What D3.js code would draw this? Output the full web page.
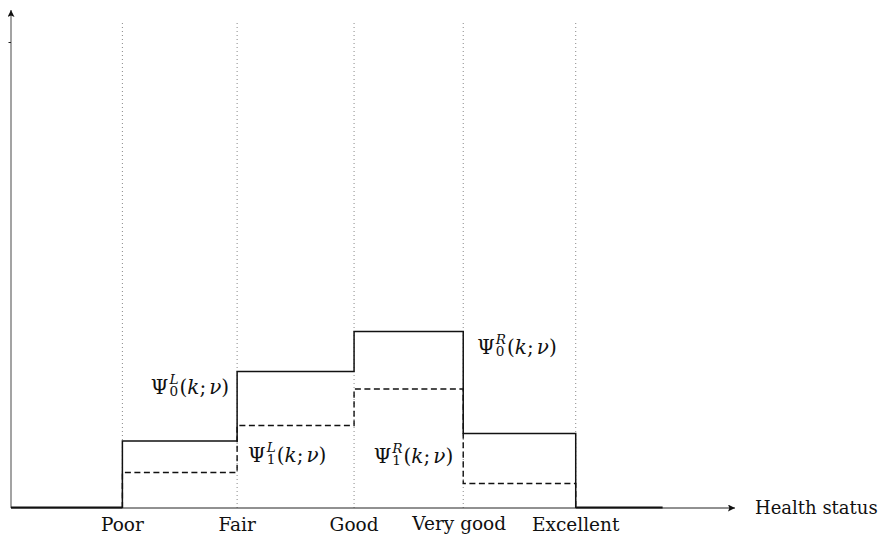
<!DOCTYPE html>
<html>
<head>
<meta charset="utf-8">
<script src="https://cdn.jsdelivr.net/npm/d3@7"></script>
<style>
  body { margin: 0; background: #fff; }
</style>
</head>
<body>
<div id="chart"></div>
<script>
// categories and the cut points on the latent scale
const categories = ["Poor", "Fair", "Good", "Very good", "Excellent"];
const cuts = [1.0, 2.03, 3.08, 4.06, 5.07];
// heights of the two step functions between consecutive cuts
const psi0 = [0.134, 0.273, 0.353, 0.149];
const psi1 = [0.071, 0.165, 0.238, 0.049];
const baseEnd = 5.85;
const axisMax = 6.5;

const width = 884, height = 535;
const origin = { x: 11, y: 508 };
const serif = '"DejaVu Serif", "Liberation Serif", serif';

const svg = d3.select('#chart').append('svg')
  .attr('width', width)
  .attr('height', height)
  .attr('font-family', serif);

const x = d3.scaleLinear([0, axisMax], [origin.x, 735]);
const y = d3.scaleLinear([0, 1], [origin.y, 8]);

// arrow marker
const defs = svg.append('defs');
defs.append('marker')
  .attr('id', 'arrow')
  .attr('viewBox', '0 0 10 10')
  .attr('refX', 10).attr('refY', 5)
  .attr('markerWidth', 9).attr('markerHeight', 7)
  .attr('markerUnits', 'userSpaceOnUse')
  .attr('orient', 'auto')
  .append('path')
  .attr('d', 'M0,0 L10,5 L0,10 L2,5 Z')
  .attr('fill', '#111');

// dotted guides at cut points
svg.selectAll('line.guide')
  .data(cuts)
  .enter()
  .append('line')
  .attr('class', 'guide')
  .attr('x1', d => x(d)).attr('x2', d => x(d))
  .attr('y1', y(0)).attr('y2', 22)
  .attr('stroke', '#888')
  .attr('stroke-width', 1)
  .attr('stroke-dasharray', '1,3');

// axes
svg.append('line')
  .attr('x1', x(0)).attr('y1', y(0))
  .attr('x2', x(axisMax)).attr('y2', y(0))
  .attr('stroke', '#222').attr('stroke-width', 1)
  .attr('marker-end', 'url(#arrow)');

svg.append('line')
  .attr('x1', x(0)).attr('y1', y(0))
  .attr('x2', x(0)).attr('y2', 10)
  .attr('stroke', '#666').attr('stroke-width', 1.2)
  .attr('marker-end', 'url(#arrow)');

// small mark on the vertical axis
svg.append('line')
  .attr('x1', x(0) - 2.5).attr('x2', x(0))
  .attr('y1', 42.5).attr('y2', 42.5)
  .attr('stroke', '#222').attr('stroke-width', 1);

// thick base segments outside the cut range
svg.selectAll('line.base')
  .data([[0, cuts[0]], [cuts[cuts.length - 1], baseEnd]])
  .enter()
  .append('line')
  .attr('class', 'base')
  .attr('x1', d => x(d[0])).attr('x2', d => x(d[1]))
  .attr('y1', y(0) - 0.5).attr('y2', y(0) - 0.5)
  .attr('stroke', '#111').attr('stroke-width', 2.2);

const stepLine = d3.line()
  .x(d => x(d[0]))
  .y(d => y(d[1]))
  .curve(d3.curveStepAfter);

const stepPoints = vals => {
  const pts = [[cuts[0], 0]];
  vals.forEach((v, i) => pts.push([cuts[i], v]));
  pts.push([cuts[cuts.length - 1], 0]);
  return pts;
};

svg.append('path')
  .attr('d', stepLine(stepPoints(psi1)))
  .attr('fill', 'none')
  .attr('stroke', '#111')
  .attr('stroke-width', 1.4)
  .attr('stroke-dasharray', '6,3.5');

svg.append('path')
  .attr('d', stepLine(stepPoints(psi0)))
  .attr('fill', 'none')
  .attr('stroke', '#111')
  .attr('stroke-width', 1.5);

// category labels
svg.selectAll('text.cat')
  .data(categories)
  .enter()
  .append('text')
  .attr('class', 'cat')
  .attr('x', (d, i) => x(cuts[i]) - (i === 3 ? 4 : 0))
  .attr('y', (d, i) => i === 3 ? 530 : 531)
  .attr('text-anchor', 'middle')
  .attr('font-size', 18.5)
  .attr('fill', '#111')
  .text(d => d);

svg.append('text')
  .attr('x', x(axisMax) + 20)
  .attr('y', y(0) + 6)
  .attr('font-size', 18)
  .attr('fill', '#111')
  .text('Health status');

// Psi labels, one text element each with stacked sub/superscript
const fs = 20;
const small = fs * 0.68;
function measure(str, size, style) {
  const t = svg.append('text').attr('font-size', size).attr('font-style', style || 'normal').text(str);
  const w = t.node().getComputedTextLength();
  t.remove();
  return w;
}
function psiLabel(sub, sup, px, py, anchor) {
  const wSup = measure(sup, small, 'italic');
  const wSub = measure(sub, small);
  const t = svg.append('text')
    .attr('font-size', fs)
    .attr('fill', '#111')
    .attr('y', py);
  t.append('tspan').text('Ψ');
  t.append('tspan').attr('dx', 1).attr('dy', -fs * 0.5)
    .attr('font-size', small).attr('font-style', 'italic').text(sup);
  t.append('tspan').attr('dx', -wSup).attr('dy', fs * 0.62)
    .attr('font-size', small).text(sub);
  t.append('tspan').attr('dx', Math.max(wSup - wSub, 0) + 1).attr('dy', -fs * 0.12).text('(');
  t.append('tspan').attr('font-style', 'italic').text('k');
  t.append('tspan').text(';');
  t.append('tspan').attr('dx', 3).attr('font-style', 'italic').text('ν');
  t.append('tspan').text(')');
  const w = t.node().getBBox().width;
  t.attr('x', anchor === 'end' ? px - w : px);
}

psiLabel('0', 'L', x(cuts[1]) - 8, y(psi0[1]) + 22, 'end');
psiLabel('1', 'L', x(cuts[1]) + 11, y(psi0[0]) + 21, 'start');
psiLabel('0', 'R', x(cuts[3]) + 14, y(psi0[2]) + 22, 'start');
psiLabel('1', 'R', x(cuts[3]) - 10, y(psi0[3]) + 29, 'end');
</script>
</body>
</html>
